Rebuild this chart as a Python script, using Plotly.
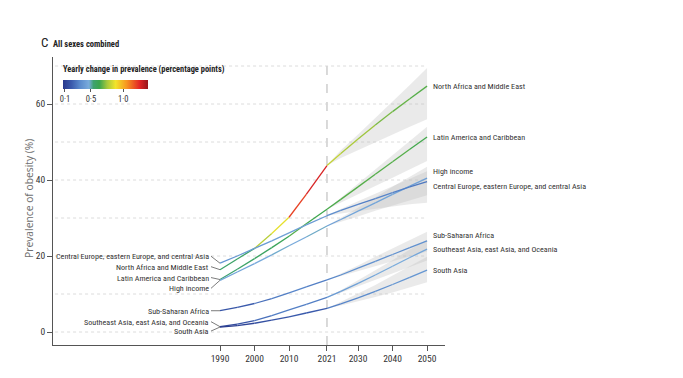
import plotly.graph_objects as go
from plotly.colors import sample_colorscale

# ---------------- data ----------------
HIST_YEARS = [1990, 1995, 2000, 2005, 2010, 2015, 2021]
PROJ_YEARS = [2021, 2025, 2030, 2035, 2040, 2045, 2050]
X_TICKS = [1990, 2000, 2010, 2021, 2030, 2040, 2050]
Y_TICKS = [0, 20, 40, 60]

REGIONS = [
    "North Africa and Middle East",
    "Latin America and Caribbean",
    "High income",
    "Central Europe, eastern Europe, and central Asia",
    "Sub-Saharan Africa",
    "Southeast Asia, east Asia, and Oceania",
    "South Asia",
]

name_hist = [16.4, 19.2, 22.0, 25.9, 30.2, 36.2, 43.8]
name_proj = [43.8, 47.0, 50.8, 54.5, 58.0, 61.4, 64.7]
name_upper = [43.8, 47.8, 52.0, 56.3, 60.5, 65.0, 69.5]
name_lower = [43.8, 45.8, 47.9, 50.0, 52.0, 54.0, 56.0]

lac_hist = [13.8, 16.5, 19.3, 22.2, 25.2, 28.5, 32.3]
lac_proj = [32.3, 34.9, 38.2, 41.5, 44.8, 48.1, 51.3]
lac_upper = [32.3, 35.3, 39.0, 42.7, 46.5, 50.3, 54.0]
lac_lower = [32.3, 34.0, 36.2, 38.4, 40.6, 42.9, 45.0]

hi_hist = [13.6, 15.8, 18.0, 20.3, 22.7, 25.0, 27.9]
hi_proj = [27.9, 29.6, 31.8, 34.0, 36.2, 38.4, 40.5]
hi_upper = [27.9, 30.0, 32.7, 35.4, 38.2, 40.9, 43.5]
hi_lower = [27.9, 29.0, 30.4, 31.9, 33.3, 34.7, 36.0]

ce_hist = [18.1, 20.0, 22.0, 24.0, 26.1, 28.2, 30.6]
ce_proj = [30.6, 32.0, 33.6, 35.1, 36.7, 38.2, 39.6]
ce_upper = [30.6, 32.4, 34.4, 36.4, 38.5, 40.4, 42.3]
ce_lower = [30.6, 31.2, 31.9, 32.4, 33.0, 33.6, 34.0]

ssa_hist = [5.6, 6.5, 7.5, 8.8, 10.3, 11.9, 13.7]
ssa_proj = [13.7, 15.0, 16.8, 18.6, 20.4, 22.2, 24.0]
ssa_upper = [13.7, 15.3, 17.5, 19.8, 22.0, 24.2, 26.4]
ssa_lower = [13.7, 14.6, 15.9, 17.3, 18.6, 19.9, 21.2]

sea_hist = [1.4, 2.1, 3.0, 4.3, 5.8, 7.3, 9.1]
sea_proj = [9.1, 10.7, 12.8, 15.0, 17.3, 19.6, 21.8]
sea_upper = [9.1, 11.0, 13.6, 16.2, 18.9, 21.7, 24.3]
sea_lower = [9.1, 10.3, 11.9, 13.6, 15.3, 17.1, 18.8]

sa_hist = [1.3, 1.7, 2.3, 3.1, 4.0, 5.0, 6.2]
sa_proj = [6.2, 7.4, 9.0, 10.7, 12.5, 14.4, 16.3]
sa_upper = [6.2, 7.9, 10.1, 12.4, 14.8, 17.3, 19.8]
sa_lower = [6.2, 7.0, 8.0, 9.2, 10.4, 11.7, 13.1]

HIST = [name_hist, lac_hist, hi_hist, ce_hist, ssa_hist, sea_hist, sa_hist]
PROJ = [name_proj, lac_proj, hi_proj, ce_proj, ssa_proj, sea_proj, sa_proj]
UPPER = [name_upper, lac_upper, hi_upper, ce_upper, ssa_upper, sea_upper, sa_upper]
LOWER = [name_lower, lac_lower, hi_lower, ce_lower, ssa_lower, sea_lower, sa_lower]

CBAR_TICKS = [0.1, 0.5, 1.0]
CBAR_TICKTEXT = ["0\u00b71", "0\u00b75", "1\u00b70"]

# ---------------- style ----------------
FONT = "Roboto Condensed, Liberation Sans Narrow, Roboto, sans-serif"
TXT = "#333333"
LABEL_SIZE = 8.1
CMIN, CMAX = 0.07, 1.38
STOPS = [
    (0.07, "rgb(40,56,140)"),
    (0.20, "rgb(58,90,172)"),
    (0.33, "rgb(90,138,204)"),
    (0.47, "rgb(122,172,220)"),
    (0.54, "rgb(62,162,112)"),
    (0.63, "rgb(58,165,78)"),
    (0.75, "rgb(166,200,60)"),
    (0.88, "rgb(242,228,42)"),
    (1.05, "rgb(247,150,32)"),
    (1.25, "rgb(226,38,38)"),
    (1.38, "rgb(150,22,28)"),
]
COLORSCALE = [[(v - CMIN) / (CMAX - CMIN), c] for v, c in STOPS]

# page offset (browser body margin) and plot area, in reference pixels
OFF = 8
FIG_W, FIG_H = 667, 362
L, T, W, H = 53 - OFF, 57 - OFF, 392, 288
X_RANGE = [1941.6, 2055.2]
Y_RANGE = [-3.42, 72.37]

LEFT_DY = [-3, -2, 8, -7, 0, -5, 4]      # label offset (px, + = down) from line start
RIGHT_DY = [0, 0, 7, -4.5, 5.5, 0, 0]    # label offset (px, + = up) from line end


def px_x(px):
    return (px - OFF - L) / W


def px_y(py):
    return (T + H - (py - OFF)) / H


def color_for(slope):
    t = (slope - CMIN) / (CMAX - CMIN)
    t = min(max(t, 0.0), 1.0)
    return sample_colorscale(COLORSCALE, [t])[0]


fig = go.Figure()

# uncertainty bands
for up, lo in zip(UPPER, LOWER):
    fig.add_trace(go.Scatter(
        x=PROJ_YEARS + PROJ_YEARS[::-1], y=up + lo[::-1],
        mode="lines", line=dict(width=0), fill="toself",
        fillcolor="rgba(185,185,185,0.30)", hoverinfo="skip"))

# coloured line segments (colour = yearly change)
for hist, proj in zip(HIST, PROJ):
    years = HIST_YEARS + PROJ_YEARS[1:]
    vals = hist + proj[1:]
    for i in range(len(years) - 1):
        slope = (vals[i + 1] - vals[i]) / (years[i + 1] - years[i])
        fig.add_trace(go.Scatter(
            x=[years[i], years[i + 1]], y=[vals[i], vals[i + 1]],
            mode="lines", line=dict(color=color_for(slope), width=1.3),
            hoverinfo="skip"))

# colour bar holder
fig.add_trace(go.Scatter(
    x=[2000], y=[-50], mode="markers",
    marker=dict(color=[0.5], cmin=CMIN, cmax=CMAX, colorscale=COLORSCALE,
                opacity=0, showscale=True,
                colorbar=dict(orientation="h", x=px_x(105.5), xanchor="center",
                              y=px_y(80), yanchor="top",
                              len=85, lenmode="pixels", thickness=9,
                              thicknessmode="pixels", xpad=0, ypad=0,
                              outlinewidth=0, ticks="outside", ticklen=3,
                              tickcolor="#555", tickvals=CBAR_TICKS,
                              ticktext=CBAR_TICKTEXT,
                              tickfont=dict(family=FONT, size=8.5, color=TXT))),
    hoverinfo="skip"))

shapes = []
for v in range(0, 71, 10):
    shapes.append(dict(type="line", xref="x", yref="y", x0=X_RANGE[0] + 0.6,
                       x1=2050, y0=v, y1=v,
                       line=dict(color="#d8d8d8", width=0.9, dash="dot"),
                       layer="below"))
shapes.append(dict(type="line", xref="x", yref="paper", x0=2021, x1=2021,
                   y0=0, y1=0.99, line=dict(color="#ababab", width=0.9, dash="dash"),
                   layer="below"))

annotations = []
for name, hist, dy in zip(REGIONS, HIST, LEFT_DY):
    annotations.append(dict(x=HIST_YEARS[0], y=hist[0], xref="x", yref="y",
                            text=name, showarrow=True, arrowhead=0,
                            arrowwidth=0.7, arrowcolor="#444", ax=-9, ay=dy,
                            xanchor="right", yanchor="middle", standoff=0,
                            font=dict(family=FONT, size=LABEL_SIZE, color=TXT)))
for name, proj, dy in zip(REGIONS, PROJ, RIGHT_DY):
    annotations.append(dict(x=PROJ_YEARS[-1], y=proj[-1], xref="x", yref="y",
                            text=name, showarrow=False, xanchor="left",
                            yanchor="middle", xshift=4, yshift=dy,
                            font=dict(family=FONT, size=LABEL_SIZE, color=TXT)))

annotations += [
    dict(x=px_x(39), y=px_y(43), xref="paper", yref="paper", text="C",
         showarrow=False, xanchor="left", yanchor="middle",
         font=dict(family=FONT, size=13, color="#222")),
    dict(x=px_x(51), y=px_y(43.5), xref="paper", yref="paper",
         text="<b>All sexes combined</b>", showarrow=False, xanchor="left",
         yanchor="middle", font=dict(family=FONT, size=8.5, color="#222")),
    dict(x=px_x(61), y=px_y(70), xref="paper", yref="paper",
         text="<b>Yearly change in prevalence (percentage points)</b>",
         showarrow=False, xanchor="left", yanchor="middle",
         font=dict(family=FONT, size=8.4, color="#222")),
    dict(x=px_x(28.5), y=px_y(198.5), xref="paper", yref="paper",
         text="Prevalence of obesity (%)", textangle=-90, showarrow=False,
         xanchor="center", yanchor="middle",
         font=dict(family="Open Sans, DejaVu Sans, sans-serif", size=10.3, color="#707070")),
]

fig.update_layout(
    width=FIG_W, height=FIG_H,
    margin=dict(l=L, r=FIG_W - L - W, t=T, b=FIG_H - T - H, autoexpand=False),
    plot_bgcolor="white", paper_bgcolor="white", showlegend=False,
    font=dict(family=FONT, size=9.5, color=TXT),
    shapes=shapes, annotations=annotations,
)
fig.update_xaxes(range=X_RANGE, tickvals=X_TICKS, ticks="outside", ticklen=5,
                 tickcolor="#555", showline=True, linecolor="#555", linewidth=1,
                 showgrid=False, zeroline=False, automargin=False,
                 tickfont=dict(family=FONT, size=9.5, color=TXT))
fig.update_yaxes(range=Y_RANGE, tickvals=Y_TICKS, ticks="outside", ticklen=5,
                 tickcolor="#555", showline=True, linecolor="#555", linewidth=1,
                 showgrid=False, zeroline=False, automargin=False,
                 tickfont=dict(family=FONT, size=9.5, color=TXT))

fig.write_html("out.html")
